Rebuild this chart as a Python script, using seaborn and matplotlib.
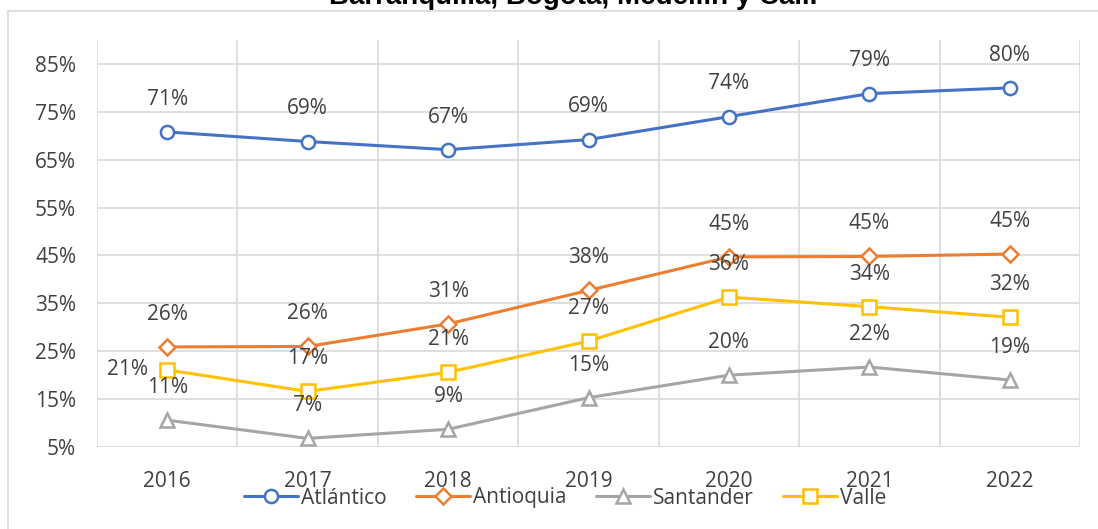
import numpy as np
import pandas as pd
import matplotlib.pyplot as plt
import seaborn as sns
from matplotlib.patches import Rectangle
from matplotlib.ticker import FuncFormatter

# values (percent)
years = [2016, 2017, 2018, 2019, 2020, 2021, 2022]
atlantico = [70.8, 68.8, 67.1, 69.2, 74.0, 78.8, 80.0]
antioquia = [25.9, 26.0, 30.7, 37.7, 44.7, 44.8, 45.3]
santander = [10.6, 6.8, 8.7, 15.3, 20.0, 21.7, 19.0]
valle = [21.1, 16.6, 20.6, 27.1, 36.3, 34.3, 32.1]

series_names = ["Atlántico", "Antioquia", "Santander", "Valle"]
series_values = [atlantico, antioquia, santander, valle]
colors = ["#4472C4", "#ED7D31", "#A5A5A5", "#FFC000"]
markers = ["o", "D", "^", "s"]
marker_sizes = [9.5, 8, 10.5, 10]

title = "Barranquilla, Bogotá, Medellín y Cali."
y_ticks = [5, 15, 25, 35, 45, 55, 65, 75, 85]

# long table for seaborn
data = pd.DataFrame({
    "Año": years * len(series_names),
    "Valor": sum(series_values, []),
    "Departamento": np.repeat(series_names, len(years)),
})

sns.set_theme(style="white")
plt.rcParams["font.family"] = ["Open Sans", "DejaVu Sans"]
text_color = "#404040"
fs = 15

fig = plt.figure(figsize=(10.98, 5.29), dpi=100)
ax = fig.add_axes([97 / 1098, 1 - 447 / 529, (1080 - 97) / 1098, (447 - 40) / 529])

for name, color, marker, ms in zip(series_names, colors, markers, marker_sizes):
    sub = data[data["Departamento"] == name]
    sns.lineplot(data=sub, x="Año", y="Valor", ax=ax, color=color, linewidth=2.2,
                 marker=marker, markersize=ms, markerfacecolor="white",
                 markeredgecolor=color, markeredgewidth=1.8, label=name, zorder=3)
    for x, v in zip(sub["Año"], sub["Valor"]):
        if name == "Valle" and x == 2016:
            offset, ha, va = (-14, 0), "right", "center"
        else:
            offset, ha, va = (0, 23.5), "center", "center"
        ax.annotate(f"{round(v)}%", (x, v), xytext=offset, textcoords="offset points",
                    ha=ha, va=va, fontsize=fs, color=text_color, zorder=4)

ax.set_xlim(2015.5, 2022.5)
ax.set_ylim(5, 90)
ax.set_xticks(years)
ax.set_xticks(np.arange(2015.5, 2023, 1), minor=True)
ax.set_yticks(y_ticks)
ax.yaxis.set_major_formatter(FuncFormatter(lambda v, p: f"{v:.0f}%"))
ax.grid(False)
ax.grid(axis="y", which="major", color="#D9D9D9", linewidth=1.2)
ax.grid(axis="x", which="minor", color="#D9D9D9", linewidth=1.2)
ax.tick_params(axis="both", which="both", length=0, labelsize=fs, labelcolor=text_color)
ax.tick_params(axis="x", pad=17)
ax.tick_params(axis="y", pad=15)
ax.set_xlabel("")
ax.set_ylabel("")
for s in ax.spines.values():
    s.set_visible(False)

handles, labels = ax.get_legend_handles_labels()
ax.get_legend().remove()
fig.legend(handles, labels, loc="center", bbox_to_anchor=(565 / 1098, 1 - 498 / 529),
           ncol=4, frameon=False, fontsize=fs, handlelength=2.6, handletextpad=0.15,
           columnspacing=1.4, labelcolor=text_color)

# chart border and clipped title
fig.add_artist(Rectangle((8 / 1098, -0.1), 1.2, 0.1 + (529 - 11) / 529, transform=fig.transFigure,
                         fill=False, edgecolor="#D9D9D9", linewidth=1.2))
fig.text(573 / 1098, 1 - 4 / 529, title, ha="center", va="baseline", fontsize=20,
         fontweight="bold", family=["Liberation Sans", "DejaVu Sans"], color="black")

plt.savefig("out.png", dpi=100)
plt.close()
